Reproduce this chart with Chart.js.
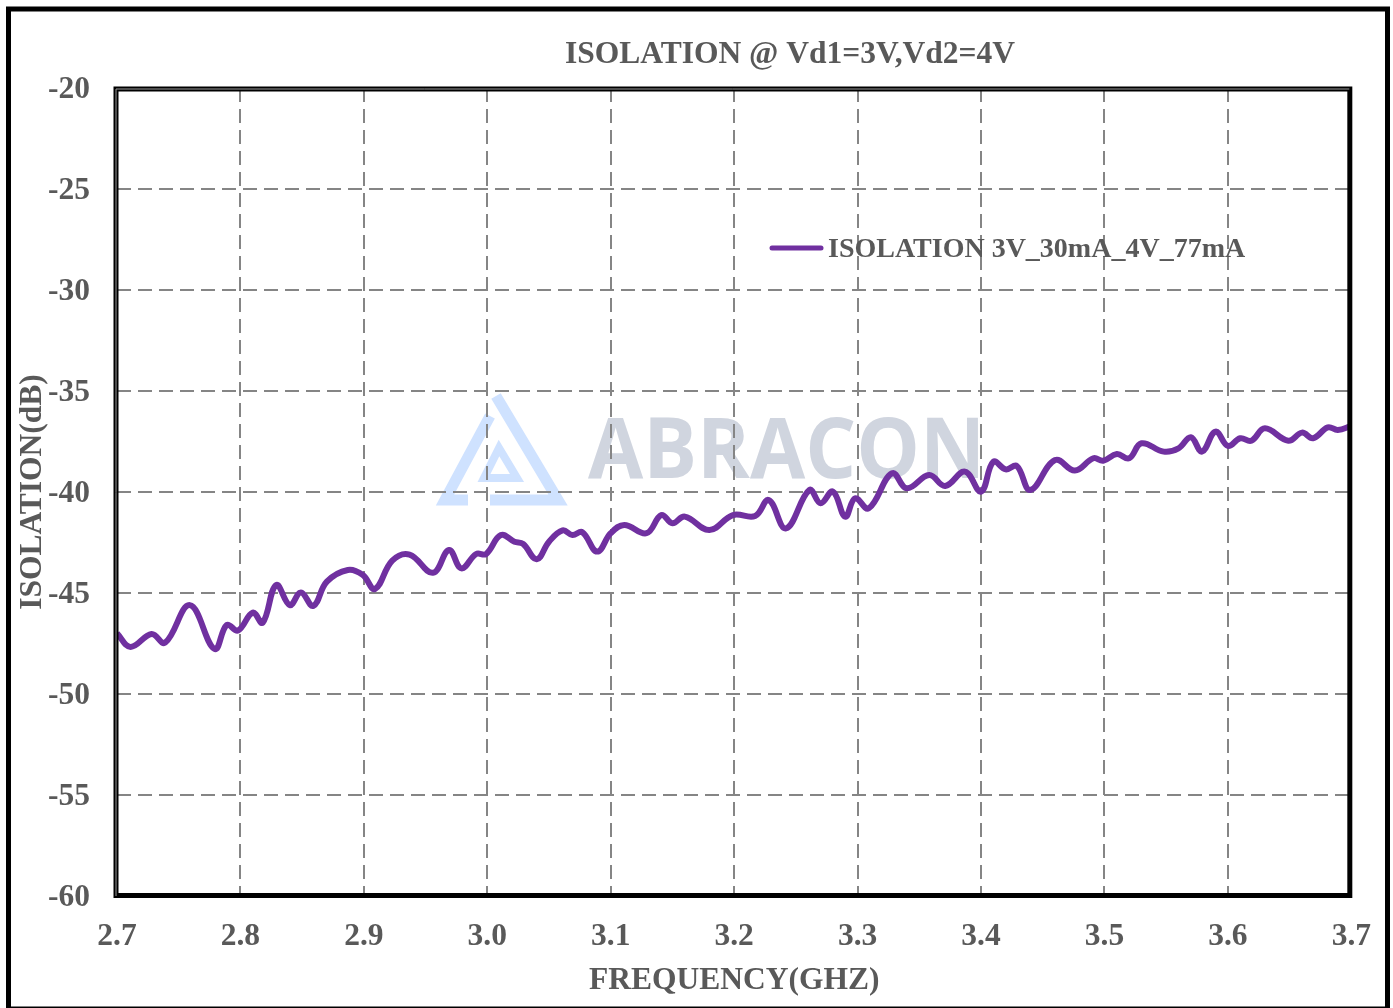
<!DOCTYPE html>
<html>
<head>
<meta charset="utf-8">
<title>Isolation</title>
<script src="https://cdn.jsdelivr.net/npm/chart.js@4.4.1/dist/chart.umd.min.js"></script>
<style>
  html, body { margin: 0; padding: 0; background: #fff; }
  #isoChart { display: block; }
</style>
</head>
<body>
<canvas id="isoChart" width="1393" height="1008"></canvas>
<script>
var freqGHz = [2.700, 2.711, 2.728, 2.739, 2.759, 2.779, 2.789, 2.798, 2.810, 2.818,
  2.829, 2.840, 2.849, 2.859, 2.870, 2.887, 2.899, 2.909, 2.923, 2.937,
  2.956, 2.969, 2.979, 2.991, 2.999, 3.011, 3.022, 3.029, 3.040, 3.050,
  3.061, 3.069, 3.077, 3.089, 3.100, 3.111, 3.129, 3.141, 3.150, 3.160,
  3.180, 3.199, 3.217, 3.228, 3.242, 3.261, 3.270, 3.280, 3.290, 3.298,
  3.309, 3.328, 3.340, 3.358, 3.371, 3.387, 3.400, 3.410, 3.420, 3.429,
  3.440, 3.460, 3.476, 3.491, 3.499, 3.510, 3.520, 3.530, 3.548, 3.560,
  3.570, 3.579, 3.590, 3.600, 3.610, 3.619, 3.630, 3.649, 3.660, 3.669,
  3.681, 3.689, 3.700];
var isolationDb = [-47.0, -47.67, -47.03, -47.46, -45.6, -47.77, -46.58, -46.86, -45.97, -46.47,
  -44.6, -45.6, -44.98, -45.64, -44.44, -43.86, -44.1, -44.8, -43.4, -43.1,
  -44.0, -42.87, -43.78, -43.07, -43.07, -42.13, -42.46, -42.57, -43.33, -42.46,
  -41.9, -42.13, -41.99, -42.95, -42.04, -41.63, -42.04, -41.14, -41.55, -41.22,
  -41.88, -41.14, -41.19, -40.4, -41.8, -39.9, -40.56, -39.98, -41.22, -40.31,
  -40.81, -39.07, -39.82, -39.16, -39.7, -38.99, -39.98, -38.5, -38.88, -38.71,
  -39.9, -38.42, -38.94, -38.33, -38.45, -38.12, -38.33, -37.59, -38.0, -37.84,
  -37.29, -38.0, -37.01, -37.72, -37.34, -37.46, -36.85, -37.46, -37.06, -37.34,
  -36.8, -36.93, -36.73];
var xTicks = [2.7, 2.8, 2.9, 3.0, 3.1, 3.2, 3.3, 3.4, 3.5, 3.6, 3.7];
var yTicks = [-60, -55, -50, -45, -40, -35, -30, -25, -20];
var seriesLabel = 'ISOLATION 3V_30mA_4V_77mA';
var chartTitle = 'ISOLATION @ Vd1=3V,Vd2=4V';
var xTitle = 'FREQUENCY(GHZ)';
var yTitle = 'ISOLATION(dB)';

var textGray = '#595959';
var lineColor = '#7030A0';
var gridGray = '#858585';
var serif = '"Liberation Serif", "Times New Roman", serif';

var decor = {
  id: 'decor',
  beforeDraw: function (chart) {
    var ctx = chart.ctx;
    ctx.save();
    ctx.fillStyle = '#fff';
    ctx.fillRect(0, 0, chart.width, chart.height);
    // watermark logo
    ctx.strokeStyle = '#CFE2FF';
    ctx.lineJoin = 'miter';
    ctx.lineWidth = 11;
    ctx.beginPath();
    ctx.moveTo(496, 396);
    ctx.lineTo(558, 500);
    ctx.lineTo(490, 500);
    ctx.stroke();
    ctx.beginPath();
    ctx.moveTo(490, 416);
    ctx.lineTo(445, 500);
    ctx.lineTo(468, 500);
    ctx.stroke();
    ctx.lineWidth = 8;
    ctx.beginPath();
    ctx.moveTo(499, 448);
    ctx.lineTo(517, 478);
    ctx.lineTo(484, 478);
    ctx.closePath();
    ctx.stroke();
    // watermark text
    ctx.fillStyle = '#D0D5DF';
    ctx.font = 'bold 84px "Open Sans", sans-serif';
    ctx.textBaseline = 'alphabetic';
    var w = ctx.measureText('ABRACON').width;
    ctx.translate(588, 478);
    ctx.scale(397 / w, 1);
    ctx.fillText('ABRACON', 0, 0);
    ctx.restore();
  },
  afterDraw: function (chart) {
    var ctx = chart.ctx;
    var a = chart.chartArea;
    ctx.save();
    // plot frame
    ctx.strokeStyle = '#000';
    ctx.lineWidth = 5;
    ctx.strokeRect(a.left - 1, a.top + 1, a.width - 0.5, a.height - 1.5);
    ctx.strokeStyle = '#9a9a9a';
    ctx.lineWidth = 1;
    ctx.beginPath();
    ctx.moveTo(a.left - 1, a.bottom);
    ctx.lineTo(a.left - 1, a.top + 1);
    ctx.lineTo(a.right - 2, a.top + 1);
    ctx.stroke();
    // outer border
    ctx.strokeStyle = '#000';
    ctx.lineWidth = 5;
    ctx.strokeRect(8.5, 9, 1379, 1000);
    // title
    ctx.fillStyle = textGray;
    ctx.font = 'bold 31.5px ' + serif;
    ctx.textAlign = 'center';
    ctx.textBaseline = 'middle';
    ctx.fillText(chartTitle, 790, 55);
    // legend
    var ds = chart.data.datasets[0];
    ctx.strokeStyle = ds.borderColor;
    ctx.lineWidth = 5;
    ctx.lineCap = 'round';
    ctx.beginPath();
    ctx.moveTo(772, 248);
    ctx.lineTo(821, 248);
    ctx.stroke();
    ctx.font = 'bold 28px ' + serif;
    ctx.textAlign = 'left';
    ctx.fillText(ds.label, 828, 250);
    ctx.restore();
  }
};

var tickFont = { family: serif, size: 31.5, weight: 'bold' };

var ctx = document.getElementById('isoChart').getContext('2d');
var isoChart = new Chart(ctx, {
  type: 'line',
  data: {
    datasets: [{
      label: seriesLabel,
      data: freqGHz.map(function (f, i) { return { x: f, y: isolationDb[i] }; }),
      borderColor: lineColor,
      borderWidth: 6,
      pointRadius: 0,
      tension: 0.4,
      fill: false
    }]
  },
  options: {
    responsive: false,
    animation: false,
    layout: { padding: { top: 88, left: 14, right: 40, bottom: 0 } },
    plugins: {
      legend: { display: false },
      title: { display: false },
      tooltip: { enabled: false }
    },
    scales: {
      x: {
        type: 'linear',
        min: 2.7,
        max: 3.7,
        afterBuildTicks: function (scale) {
          scale.ticks = xTicks.map(function (v) { return { value: v }; });
        },
        afterFit: function (scale) { scale.height = 112; },
        border: { display: false, dash: [14, 7] },
        grid: { color: gridGray, lineWidth: 2, drawTicks: false },
        ticks: {
          padding: 22,
          color: textGray,
          font: tickFont,
          callback: function (v) { return v.toFixed(1); }
        },
        title: {
          display: true,
          text: xTitle,
          color: textGray,
          font: tickFont,
          padding: { top: 0, bottom: 8 }
        }
      },
      y: {
        min: -60,
        max: -20,
        afterBuildTicks: function (scale) {
          scale.ticks = yTicks.map(function (v) { return { value: v }; });
        },
        afterFit: function (scale) { scale.width = 103; },
        border: { display: false, dash: [14, 7] },
        grid: { color: gridGray, lineWidth: 2, drawTicks: false },
        ticks: {
          padding: 27,
          labelOffset: 2,
          color: textGray,
          font: tickFont,
          callback: function (v) { return String(v); }
        },
        title: {
          display: true,
          text: yTitle,
          color: textGray,
          font: tickFont,
          padding: { top: 0, bottom: 0 }
        }
      }
    }
  },
  plugins: [decor]
});
</script>
</body>
</html>
